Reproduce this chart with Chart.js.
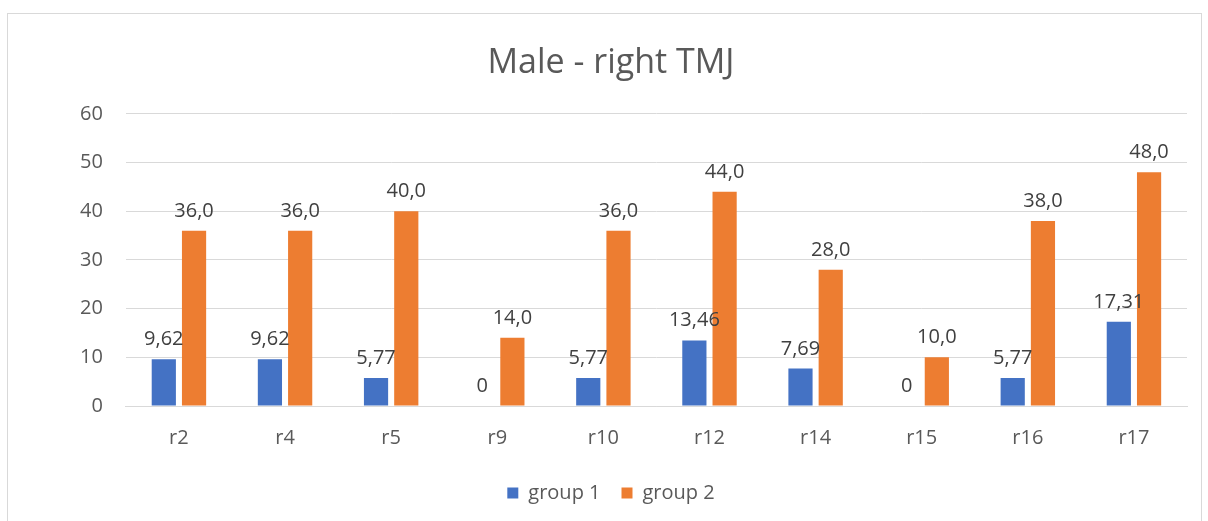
<!DOCTYPE html>
<html>
<head>
<meta charset="utf-8">
<script src="https://cdn.jsdelivr.net/npm/chart.js@4/dist/chart.umd.min.js"></script>
<style>
html,body{margin:0;padding:0;background:#fff;}
#wrap{position:absolute;left:0;top:0;width:1208px;height:521px;}
</style>
</head>
<body>
<div id="wrap"><canvas id="c" width="1208" height="521"></canvas></div>
<script>
const categories = ["r2","r4","r5","r9","r10","r12","r14","r15","r16","r17"];
const group1 = [9.62, 9.62, 5.77, 0, 5.77, 13.46, 7.69, 0, 5.77, 17.31];
const group2 = [36.0, 36.0, 40.0, 14.0, 36.0, 44.0, 28.0, 10.0, 38.0, 48.0];
const group1Decimals = 2;
const group2Decimals = 1;
const yTicks = [0, 10, 20, 30, 40, 50, 60];

const FONT = "'Open Sans', 'DejaVu Sans', sans-serif";

function fmt(v, dec) {
  if (v === 0) return "0";
  return v.toFixed(dec).replace(".", ",");
}

const borderPlugin = {
  id: 'outerBorder',
  beforeDraw(chart) {
    const ctx = chart.ctx;
    ctx.save();
    ctx.fillStyle = '#fff';
    ctx.fillRect(0, 0, chart.width, chart.height);
    ctx.strokeStyle = '#d9d9d9';
    ctx.lineWidth = 1;
    ctx.strokeRect(7.5, 13.5, chart.width - 14, chart.height);
    ctx.restore();
  }
};

const labelPlugin = {
  id: 'valueLabels',
  afterDatasetsDraw(chart) {
    const ctx = chart.ctx;
    ctx.save();
    ctx.font = "20px " + FONT;
    ctx.fillStyle = '#404040';
    ctx.textAlign = 'center';
    ctx.textBaseline = 'alphabetic';
    chart.data.datasets.forEach((ds, di) => {
      const meta = chart.getDatasetMeta(di);
      meta.data.forEach((bar, i) => {
        const txt = fmt(ds.data[i], ds.decimals);
        ctx.fillText(txt, bar.x, bar.y - 14);
      });
    });
    ctx.restore();
  }
};

new Chart(document.getElementById('c'), {
  type: 'bar',
  data: {
    labels: categories,
    datasets: [
      { label: 'group 1', data: group1, decimals: group1Decimals, backgroundColor: '#4472C4', categoryPercentage: 0.57, barPercentage: 0.8 },
      { label: 'group 2', data: group2, decimals: group2Decimals, backgroundColor: '#ED7D31', categoryPercentage: 0.57, barPercentage: 0.8 }
    ]
  },
  options: {
    responsive: false,
    animation: false,
    devicePixelRatio: 1,
    layout: { padding: { left: 35, right: 21, top: 0, bottom: 8 } },
    plugins: {
      title: {
        display: true,
        text: 'Male - right TMJ',
        color: '#595959',
        font: { family: FONT, size: 34, weight: 'normal' },
        padding: { top: 43, bottom: 30 }
      },
      legend: {
        display: true,
        position: 'bottom',
        labels: {
          color: '#595959',
          font: { family: FONT, size: 20 },
          boxWidth: 11,
          boxHeight: 11,
          padding: 21
        }
      },
      tooltip: { enabled: false }
    },
    scales: {
      x: {
        grid: { display: false },
        border: { display: true, color: '#d9d9d9' },
        ticks: { color: '#595959', font: { family: FONT, size: 20 }, padding: 12 }
      },
      y: {
        min: 0, max: 60,
        afterBuildTicks(axis) { axis.ticks = yTicks.map(v => ({ value: v })); },
        afterFit(axis) { axis.width += 22; },
        grid: { color: '#d9d9d9', drawTicks: false },
        border: { display: false },
        ticks: { color: '#595959', font: { family: FONT, size: 20 }, padding: 23 }
      }
    }
  },
  plugins: [borderPlugin, labelPlugin]
});
</script>
</body>
</html>
